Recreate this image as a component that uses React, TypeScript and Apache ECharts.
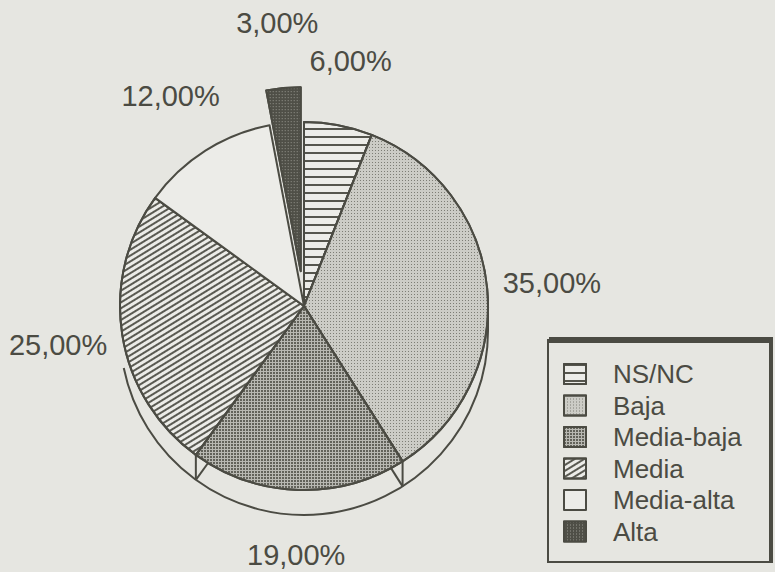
import React, { useEffect, useRef } from 'react';
import * as echarts from 'echarts';

const categories = ['NS/NC', 'Baja', 'Media-baja', 'Media', 'Media-alta', 'Alta'];
const shares = [6, 35, 19, 25, 12, 3];
const explodedCategory = 'Alta';

const INK = '#4b4b43';
const PAPER = '#e6e6e1';
const FONT = '"Liberation Sans", Arial, Helvetica, sans-serif';

const CX = 304;
const CY = 306;
const R = 184;
const DEPTH = 25;
const EXPLODE = 35;
const LABEL_R = 249;

const sliceStyles: Record<string, any> = {
  'NS/NC': {
    color: '#ecece8',
    decal: { symbol: 'rect', symbolSize: 1, dashArrayX: [[20, 0]], dashArrayY: [2, 6], color: '#55554d' },
  },
  Baja: {
    color: '#ccccc6',
    decal: { symbol: 'rect', symbolSize: 1, dashArrayX: [1, 2], dashArrayY: [1, 2], color: '#7d7d75' },
  },
  'Media-baja': {
    color: '#b8b8b2',
    decal: { symbol: 'rect', symbolSize: 1, dashArrayX: [2, 1], dashArrayY: [2, 1], color: '#62625a' },
  },
  Media: {
    color: '#ecece8',
    decal: { symbol: 'rect', symbolSize: 1, dashArrayX: [[20, 0]], dashArrayY: [2, 3], rotation: -0.55, color: '#5a5a52' },
  },
  'Media-alta': { color: '#ecece8' },
  Alta: {
    color: '#4f4f47',
    decal: { symbol: 'rect', symbolSize: 1, dashArrayX: [1, 2], dashArrayY: [1, 2], color: '#96968e' },
  },
};

function fmt(v: number) {
  return v.toFixed(2).replace('.', ',') + '%';
}

const total = shares.reduce((a, b) => a + b, 0);
const midAngles: number[] = (() => {
  const out: number[] = [];
  let acc = 0;
  for (const s of shares) {
    out.push(((acc + s / 2) / total) * 2 * Math.PI);
    acc += s;
  }
  return out;
})();

function buildGraphics() {
  const els: any[] = [];
  const leftEnd = Math.PI - Math.asin(37 / R);
  els.push({
    type: 'arc',
    shape: { cx: CX, cy: CY + DEPTH, r: R, startAngle: 0, endAngle: leftEnd, clockwise: true },
    style: { stroke: INK, lineWidth: 2, fill: null },
    silent: true,
  });
  els.push({
    type: 'line',
    shape: { x1: CX + R, y1: CY, x2: CX + R, y2: CY + DEPTH },
    style: { stroke: INK, lineWidth: 2 },
    silent: true,
  });
  let acc = 0;
  for (let i = 0; i < shares.length; i++) {
    acc += shares[i];
    const deg = (acc / total) * 360;
    if (deg > 95 && deg < 265) {
      const rad = (deg * Math.PI) / 180;
      const bx = CX + R * Math.sin(rad);
      const by = CY - R * Math.cos(rad);
      els.push({
        type: 'line',
        shape: { x1: bx, y1: by, x2: bx, y2: by + DEPTH },
        style: { stroke: INK, lineWidth: 2 },
        silent: true,
      });
      const ux = (CX - bx) / R;
      const uy = (CY - by) / R;
      const px = bx, py = by + DEPTH;
      const dx = px - CX, dy = py - CY;
      const b = 2 * (dx * ux + dy * uy);
      const c = dx * dx + dy * dy - R * R;
      const disc = b * b - 4 * c;
      const t = disc > 0 ? (-b - Math.sqrt(disc)) / 2 : 15;
      els.push({
        type: 'line',
        shape: { x1: px, y1: py, x2: px + ux * t, y2: py + uy * t },
        style: { stroke: INK, lineWidth: 2 },
        silent: true,
      });
    }
  }
  els.push({
    type: 'rect',
    shape: { x: 548, y: 340, width: 222, height: 222 },
    style: { stroke: INK, lineWidth: 2, fill: PAPER },
    silent: true,
    z: -1,
  });
  els.push({
    type: 'rect',
    shape: { x: 549, y: 337, width: 224, height: 6 },
    style: { fill: INK },
    silent: true,
  });
  els.push({
    type: 'rect',
    shape: { x: 769, y: 337, width: 4, height: 226 },
    style: { fill: INK },
    silent: true,
  });
  return els;
}

export default function App() {
  const ref = useRef<HTMLDivElement>(null);
  useEffect(() => {
    if (!ref.current) return;
    const chart = echarts.init(ref.current, undefined, { renderer: 'svg' });
    const mainData = categories.map((name, i) => ({
      name,
      value: shares[i],
      selected: name === explodedCategory,
      itemStyle: { ...sliceStyles[name], borderColor: INK, borderWidth: 2 },
    }));
    const labelData = categories.map((name, i) => ({ name, value: shares[i] }));
    chart.setOption({
      animation: false,
      backgroundColor: PAPER,
      legend: {
        data: categories,
        orient: 'vertical',
        left: 563,
        top: 361,
        height: 260,
        padding: 0,
        itemWidth: 22,
        itemHeight: 20,
        itemGap: 5.5,
        icon: 'rect',
        selectedMode: false,
        textStyle: { fontSize: 26, color: INK, fontFamily: FONT, padding: [0, 0, 0, 22] },
      },
      graphic: buildGraphics(),
      series: [
        {
          type: 'pie',
          center: [CX, CY],
          radius: R,
          startAngle: 90,
          clockwise: true,
          selectedMode: 'single',
          selectedOffset: EXPLODE,
          label: { show: false },
          labelLine: { show: false },
          emphasis: { disabled: true },
          data: mainData,
          z: 3,
        },
        {
          type: 'pie',
          center: [CX, CY],
          radius: R,
          startAngle: 90,
          clockwise: true,
          silent: true,
          selectedMode: false,
          avoidLabelOverlap: false,
          itemStyle: { color: 'rgba(0,0,0,0)', borderWidth: 0 },
          label: {
            show: true,
            position: 'outside',
            fontSize: 29,
            color: INK,
            fontFamily: FONT,
            formatter: (p: any) => fmt(p.value),
          },
          labelLine: { show: false },
          labelLayout: (p: any) => {
            const i = p.dataIndex;
            const a = midAngles[i];
            const r = LABEL_R + (categories[i] === explodedCategory ? EXPLODE : 0);
            return {
              x: CX + r * Math.sin(a),
              y: CY - r * Math.cos(a),
              align: 'center',
              verticalAlign: 'middle',
            };
          },
          emphasis: { disabled: true },
          data: labelData,
          z: 4,
        },
      ],
    });
    return () => chart.dispose();
  }, []);
  return (
    <div
      ref={ref}
      style={{ position: 'absolute', left: 0, top: 0, width: 775, height: 572 }}
    />
  );
}
